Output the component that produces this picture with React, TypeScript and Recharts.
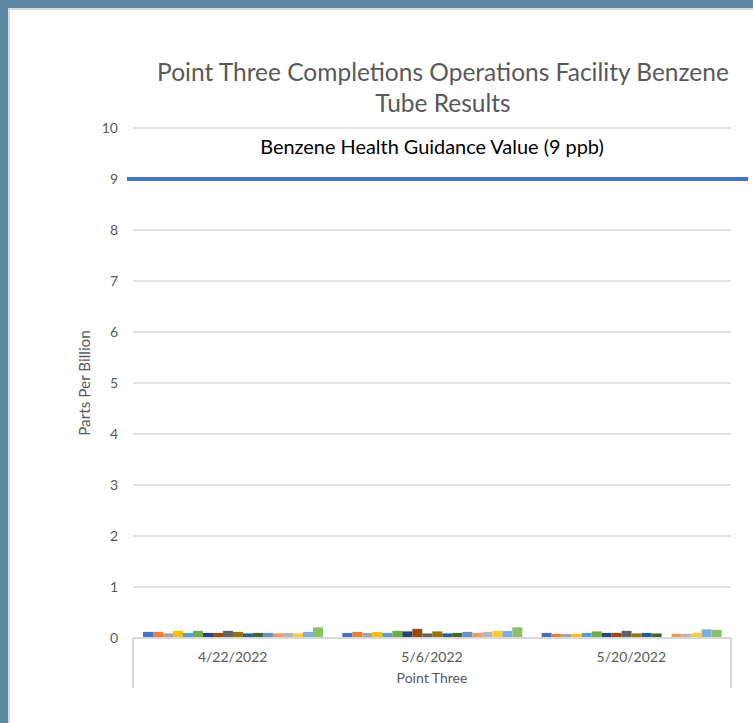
import React from "react";
import {
  BarChart,
  Bar,
  XAxis,
  YAxis,
  CartesianGrid,
  ReferenceLine,
  Customized,
  usePlotArea,
} from "recharts";

const dates = ["4/22/2022", "5/6/2022", "5/20/2022"];

const tubes = [
  "Tube 1", "Tube 2", "Tube 3", "Tube 4", "Tube 5", "Tube 6",
  "Tube 7", "Tube 8", "Tube 9", "Tube 10", "Tube 11", "Tube 12",
  "Tube 13", "Tube 14", "Tube 15", "Tube 16", "Tube 17", "Tube 18",
];

// one value per tube, in tube order
const apr22 = [0.12, 0.12, 0.09, 0.14, 0.1, 0.14, 0.1, 0.1, 0.14, 0.12, 0.09, 0.1, 0.1, 0.09, 0.1, 0.09, 0.12, 0.21];
const may6 = [0.1, 0.12, 0.1, 0.12, 0.1, 0.14, 0.13, 0.18, 0.09, 0.13, 0.09, 0.1, 0.12, 0.1, 0.12, 0.14, 0.14, 0.21];
const may20 = [0.1, 0.08, 0.08, 0.08, 0.1, 0.13, 0.1, 0.1, 0.14, 0.09, 0.1, 0.09, null, 0.08, 0.08, 0.1, 0.17, 0.16];

const yTicks = [0, 1, 2, 3, 4, 5, 6, 7, 8, 9, 10];
const guidanceValue = 9;

const COLORS = [
  "#4472C4", "#ED7D31", "#A5A5A5", "#FFC000", "#5B9BD5", "#70AD47",
  "#264478", "#9E480E", "#636363", "#997300", "#255E91", "#43682B",
  "#698ED0", "#F1975A", "#B7B7B7", "#FFCD33", "#7CAFDD", "#8CC168",
];

const FONT = "Lato, 'Open Sans', sans-serif";
const GRAY = "#595959";
const LINE = "#D9D9D9";

const byDate = [apr22, may6, may20];
const chartData = dates.map((date, i) => {
  const row: Record<string, string | number | null> = { date };
  tubes.forEach((t, j) => {
    row[t] = byDate[i][j];
  });
  return row;
});

function EdgeTicks() {
  const plot = usePlotArea();
  if (!plot) return null;
  const yb = plot.y + plot.height;
  return (
    <g>
      <line x1={plot.x} y1={yb} x2={plot.x} y2={yb + 50} stroke={LINE} strokeWidth={2} />
      <line x1={plot.x + plot.width} y1={yb} x2={plot.x + plot.width} y2={yb + 50} stroke={LINE} strokeWidth={2} />
    </g>
  );
}

export default function App() {
  return (
    <div
      style={{
        position: "absolute",
        left: 0,
        top: 0,
        width: 753,
        height: 723,
        background: "#fff",
        fontFamily: FONT,
        overflow: "hidden",
      }}
    >
      <div
        style={{
          position: "absolute",
          left: 0,
          top: 0,
          width: 753,
          height: 723,
          boxSizing: "border-box",
          borderLeft: "8px solid #5D87A3",
          borderTop: "8px solid #5D87A3",
        }}
      >
        <div
          style={{
            width: "100%",
            height: "100%",
            boxSizing: "border-box",
            borderLeft: `2px solid ${LINE}`,
            borderTop: `2px solid ${LINE}`,
          }}
        />
      </div>
      <div
        style={{
          position: "absolute",
          left: 120,
          top: 56,
          width: 646,
          textAlign: "center",
          fontSize: 24.5,
          lineHeight: "31px",
          color: GRAY,
        }}
      >
        Point Three Completions Operations Facility Benzene
        <br />
        Tube Results
      </div>
      <div style={{ position: "absolute", left: 0, top: 0 }}>
        <BarChart
          width={753}
          height={723}
          data={chartData}
          margin={{ top: 128, right: 22, bottom: 35, left: 0 }}
          barCategoryGap="5%"
          barGap={0}
        >
          <CartesianGrid vertical={false} stroke={LINE} strokeWidth={1.5} />
          <XAxis
            dataKey="date"
            height={50}
            axisLine={{ stroke: LINE, strokeWidth: 2 }}
            tickLine={false}
            tickMargin={8}
            tick={{ fill: GRAY, fontSize: 14, fontFamily: FONT }}
            label={{
              value: "Point Three",
              position: "insideBottom",
              offset: 5,
              fill: GRAY,
              fontSize: 14,
              fontFamily: FONT,
            }}
          />
          <YAxis
            width={133}
            domain={[0, 10]}
            ticks={yTicks}
            interval={0}
            axisLine={false}
            tickLine={false}
            tickMargin={9}
            tick={{ fill: GRAY, fontSize: 14, fontFamily: FONT }}
            label={{
              value: "Parts Per Billion",
              content: ({ viewBox }: any) => {
                const cy = viewBox.y + viewBox.height / 2;
                return (
                  <text
                    x={84}
                    y={cy}
                    transform={`rotate(-90, 84, ${cy})`}
                    textAnchor="middle"
                    dominantBaseline="central"
                    fill={GRAY}
                    fontSize={15.3}
                    fontFamily={FONT}
                  >
                    Parts Per Billion
                  </text>
                );
              },
            }}
          />
          {tubes.map((t, i) => (
            <Bar key={t} dataKey={t} fill={COLORS[i % COLORS.length]} isAnimationActive={false} />
          ))}
          <ReferenceLine
            y={guidanceValue}
            ifOverflow="visible"
            shape={(p: any) => (
              <line x1={p.x1 - 6} y1={p.y1} x2={p.x2 + 17} y2={p.y2} stroke="#4472C4" strokeWidth={4} />
            )}
            label={{
              value: "Benzene Health Guidance Value (9 ppb)",
              position: "top",
              offset: 25,
              fill: "#000",
              fontSize: 19.9,
              fontFamily: FONT,
            }}
          />
          <Customized component={<EdgeTicks />} />
        </BarChart>
      </div>
    </div>
  );
}
